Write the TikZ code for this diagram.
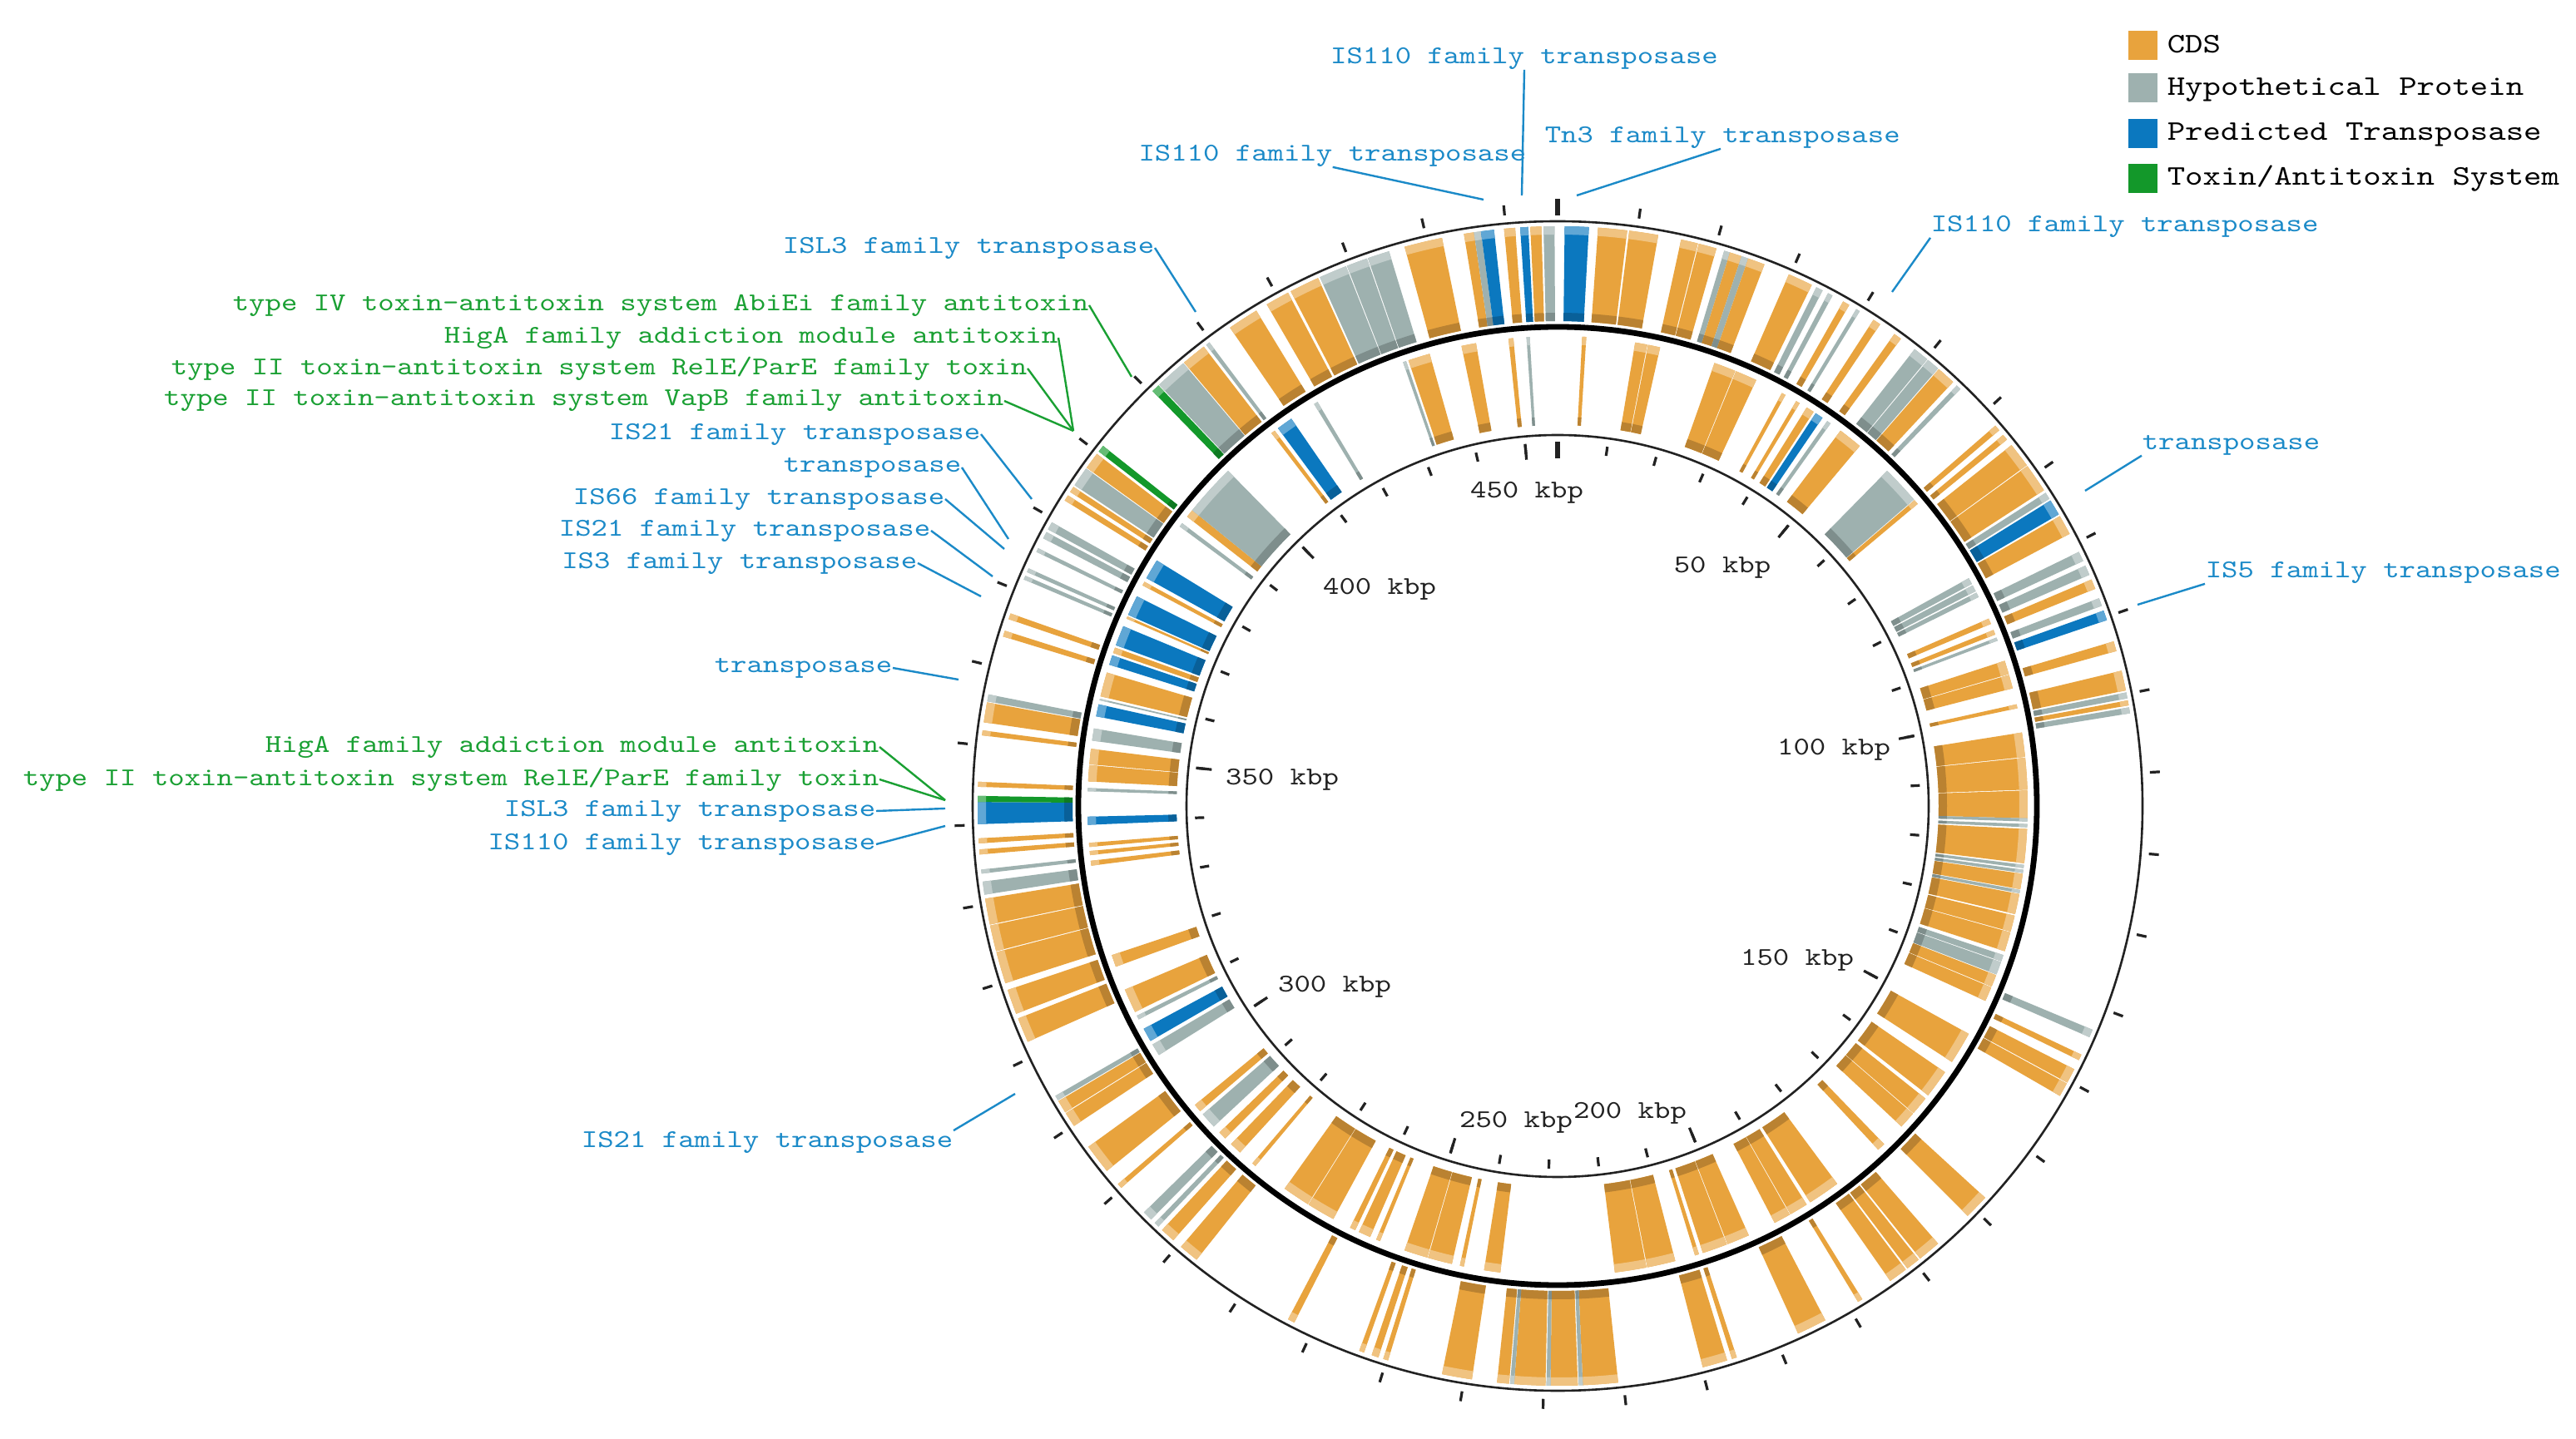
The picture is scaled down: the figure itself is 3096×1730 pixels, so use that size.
\documentclass[tikz,border=0pt]{standalone}
\usepackage{fontspec}
\usetikzlibrary{calc}
\newfontfamily\lblfont[FakeStretch=1.2]{lmmono10-regular.otf}
\definecolor{cds}{HTML}{E8A33D}
\definecolor{hyp}{HTML}{9EB1AF}
\definecolor{tra}{HTML}{0B78BF}
\definecolor{tox}{HTML}{13982A}
\definecolor{lblue}{HTML}{1B8AC8}
\definecolor{lgreen}{HTML}{1AA033}
\definecolor{ink}{HTML}{222222}
\newcommand\sect[5]{\fill[#5] ({90-(#1)}:#4) arc[start angle={90-(#1)}, end angle={90-(#2)}, radius=#4] -- ({90-(#2)}:#3) arc[start angle={90-(#2)}, end angle={90-(#1)}, radius=#3] -- cycle;}
\newcommand\outf[3]{\sect{#1}{#2}{583}{697}{#3}\sect{#1}{#2}{583}{593}{#3!80!black}\sect{#1}{#2}{687}{697}{#3!65!white}}
\newcommand\innf[3]{\sect{#1}{#2}{458}{565}{#3}\sect{#1}{#2}{458}{468}{#3!80!black}\sect{#1}{#2}{555}{565}{#3!65!white}}
\newcommand\lbl{\lblfont\fontsize{7.7}{9}\selectfont}
\newcommand\lgd{\lblfont\fontsize{8.5}{10}\selectfont}
\tikzset{
  bluelab/.style={inner sep=0pt, text=lblue, font=\lbl},
  greenlab/.style={inner sep=0pt, text=lgreen, font=\lbl},
  scalelab/.style={inner sep=0pt, text=ink, font=\lbl},
  bleader/.style={draw=lblue, line width=0.6pt},
  gleader/.style={draw=lgreen, line width=0.6pt},
  sctick/.style={draw=ink, line width=0.8pt},
  swatch/.style={minimum size=8.75pt, inner sep=0pt, draw=none},
  legtext/.style={inner sep=0pt, anchor=west, text=black, font=\lgd}
}
\begin{document}
\begin{tikzpicture}[x=0.25pt,y=0.25pt]
\useasboundingbox (0,0) rectangle (3096,-1730);
\fill[white] (0,0) rectangle (3096,-1730);
\begin{scope}[shift={(1872,-969)}]
% outer ring features
\foreach \a/\b/\c in {-91.8/-89.6/tra,-89.6/-89.0/tox,-88.1/-87.6/cds,-83.0/-82.5/cds,-81.7/-79.7/cds,-79.6/-78.9/hyp,-73.0/-72.4/cds,-71.2/-70.6/cds,-67.0/-66.6/hyp,-66.2/-65.8/hyp,-64.0/-63.6/hyp,-62.5/-61.8/hyp,-61.5/-60.7/hyp,-58.2/-57.6/cds,-57.2/-56.6/cds,-56.4/-54.4/hyp,-54.3/-52.6/cds,-52.3/-51.6/tox,-44.3/-43.5/tox,-43.4/-40.2/hyp,-40.1/-37.6/cds,-37.3/-36.9/hyp,-34.4/-31.3/cds,-30.1/-27.7/cds,-27.4/-24.4/cds,-24.2/-21.4/hyp,-21.3/-19.2/hyp,-19.1/-16.9/hyp,-15.3/-11.5/cds,-9.3/-8.3/cds,-8.3/-7.6/hyp,-7.6/-6.3/tra,-5.3/-4.2/cds,-3.7/-2.9/tra,-2.7/-1.6/cds,-1.4/-0.3/hyp,
0.7/3.1/tra,4.0/6.9/cds,7.1/10.0/cds,12.3/14.0/cds,14.1/15.9/cds,16.7/17.3/hyp,17.3/18.5/cds,18.5/19.2/hyp,19.2/20.9/cds,23.5/26.0/cds,26.5/27.2/hyp,27.8/28.3/hyp,29.5/30.2/cds,31.0/31.4/hyp,33.0/33.8/cds,35.5/36.3/cds,38.0/39.6/hyp,39.7/41.0/hyp,41.1/43.0/cds,43.5/44.0/hyp,49.0/49.6/cds,50.2/50.8/cds,51.5/54.0/cds,54.1/57.0/cds,57.3/58.0/hyp,58.2/59.8/tra,60.0/62.0/cds,64.0/65.0/hyp,65.5/66.5/hyp,67.0/68.0/cds,69.0/69.8/hyp,70.3/71.3/tra,73.5/74.5/cds,76.5/78.5/cds,78.7/79.3/hyp,79.5/80.0/cds,80.2/80.8/hyp,
112.7/113.5/hyp,115.4/116.0/cds,117.0/118.5/cds,118.6/120.0/cds,132.5/135.0/cds,139.0/141.3/cds,141.5/142.9/cds,143.1/145.0/cds,148.3/148.8/cds,152.5/155.5/cds,162.0/162.5/cds,163.0/165.5/cds,174.0/177.5/cds,177.5/177.9/hyp,178.0/180.7/cds,180.7/181.1/hyp,181.2/184.3/cds,184.3/184.7/hyp,184.8/186.0/cds,
-171.5/-168.5/cds,-163.0/-162.5/cds,-162.0/-161.3/cds,-160.5/-160.0/cds,-153.0/-152.3/cds,-141.5/-139.5/cds,-138.5/-137.0/cds,-136.5/-136.0/hyp,-135.5/-134.5/hyp,-131.2/-130.7/cds,-129.0/-126.0/cds,-123.5/-122.0/cds,-121.9/-120.6/cds,-120.5/-120.0/hyp,-114.0/-111.5/cds,-111.0/-108.5/cds,-107.8/-104.6/cds,-104.5/-101.9/cds,-101.8/-99.2/cds,-98.8/-97.5/hyp,-96.7/-96.3/hyp,-94.8/-94.3/cds,-93.7/-93.2/cds}
  {\outf{\a}{\b}{\c}}
% inner ring features
\foreach \a/\b/\c in {-92.3/-91.3/tra,-88.2/-87.8/hyp,-87.0/-85.0/cds,-84.9/-83.0/cds,-82.0/-80.5/hyp,-79.0/-77.5/tra,-77.0/-76.8/hyp,-76.5/-73.5/cds,-72.5/-71.3/tra,-71.0/-70.3/cds,-70.0/-67.5/tra,-66.5/-66.2/cds,-66.0/-63.5/tra,-62.0/-61.5/cds,-61.0/-58.5/tra,-53.5/-53.0/hyp,-52.0/-51.0/cds,-51.0/-44.5/hyp,-37.5/-37.0/cds,-36.5/-34.5/tra,-31.2/-30.7/hyp,-19.2/-18.8/hyp,-18.5/-15.8/cds,-11.8/-10.0/cds,-6.0/-5.4/cds,-3.8/-3.4/hyp,
3.0/3.5/cds,9.5/11.0/cds,11.1/12.6/cds,19.5/22.2/cds,22.3/25.0/cds,28.5/29.0/cds,30.5/31.0/cds,32.0/33.0/cds,33.3/34.3/tra,35.0/35.5/hyp,37.0/40.0/cds,44.5/49.3/hyp,49.4/50.0/cds,61.0/61.8/hyp,62.0/62.8/hyp,63.0/63.6/hyp,66.5/67.2/cds,68.0/68.6/cds,69.0/69.4/hyp,72.0/73.7/cds,73.8/75.5/cds,77.5/78.0/cds,81.0/84.0/cds,84.1/88.0/cds,88.1/91.5/cds,91.5/91.9/hyp,92.2/92.6/hyp,92.8/97.0/cds,97.2/97.6/hyp,97.8/98.2/hyp,98.3/100.2/cds,100.3/100.7/hyp,100.8/103.3/cds,
103.5/105.5/cds,105.6/108.0/cds,108.5/109.3/hyp,109.4/111.0/hyp,111.1/112.6/cds,112.7/114.5/cds,119.0/123.0/cds,124.5/128.0/cds,128.5/130.8/cds,130.9/133.0/cds,136.0/137.0/cds,143.5/147.5/cds,148.0/150.3/cds,150.4/152.5/cds,156.0/158.8/cds,158.9/162.0/cds,162.5/163.0/cds,165.5/169.0/cds,169.1/173.0/cds,
-173.0/-171.0/cds,-168.5/-168.0/cds,-167.0/-164.0/cds,-163.9/-161.0/cds,-157.8/-157.3/cds,-156.5/-155.0/cds,-154.5/-153.8/cds,-151.5/-148.0/cds,-147.9/-144.5/cds,-140.0/-139.5/cds,-137.5/-136.0/cds,-135.0/-134.0/cds,-133.0/-131.0/hyp,-130.5/-129.5/cds,-122.0/-120.5/hyp,-120.0/-118.3/tra,-117.0/-116.5/hyp,-116.0/-113.0/cds,-110.0/-108.5/cds,-97.3/-96.7/cds,-96.0/-95.5/cds,-95.0/-94.5/cds}
  {\innf{\a}{\b}{\c}}
% circles
\draw[ink, line width=0.65pt] (0,0) circle[radius=703];
\draw[black, line width=1.7pt] (0,0) circle[radius=576];
\draw[ink, line width=0.65pt] (0,0) circle[radius=446];
% ticks
\foreach \k in {1,...,45} {
  \draw[sctick] ({90-\k*7.8861}:425) -- ({90-\k*7.8861}:436);
  \draw[sctick] ({90-\k*7.8861}:713) -- ({90-\k*7.8861}:725);
}
\foreach \k in {5,10,...,45} {
  \draw[sctick] ({90-\k*7.8861}:418) -- ({90-\k*7.8861}:437);
}
\draw[sctick, line width=1.4pt] (90:418) -- (90:438);
\draw[sctick, line width=1.4pt] (90:710) -- (90:730);
\end{scope}
% scale labels
\node[scalelab] (s450) at (1835,-592) {450 kbp};
\node[scalelab] (s50) at (2070,-682) {50 kbp};
\node[scalelab] (s100) at (2204,-901) {100 kbp};
\node[scalelab] (s150) at (2160,-1154) {150 kbp};
\node[scalelab] (s200) at (1959,-1338) {200 kbp};
\node[scalelab] (s250) at (1822,-1349) {250 kbp};
\node[scalelab] (s300) at (1604,-1186) {300 kbp};
\node[scalelab] (s350) at (1541,-937) {350 kbp};
\node[scalelab] (s400) at (1658,-708) {400 kbp};
% leader end points
\coordinate (e1) at (1829,-235);
\coordinate (e2) at (1783,-240);
\coordinate (e3) at (1895,-235);
\coordinate (e4) at (2274,-351);
\coordinate (e5) at (2506,-590);
\coordinate (e6) at (2569,-727);
\coordinate (e7) at (1437,-375);
\coordinate (e8) at (1360,-453);
\coordinate (e9) at (1290,-518);
\coordinate (e12) at (1240,-600);
\coordinate (e13) at (1212,-648);
\coordinate (e14) at (1207,-660);
\coordinate (e15) at (1193,-693);
\coordinate (e16) at (1179,-717);
\coordinate (e17) at (1152,-817);
\coordinate (e18) at (1136,-962);
\coordinate (e20) at (1136,-972);
\coordinate (e21) at (1136,-993);
\coordinate (e22) at (1220,-1315);
% top / right labels
\node[bluelab] (l1) at (1832,-70) {IS110 family transposase};
\node[bluelab, anchor=east] (l2) at (1835,-187) {IS110 family transposase};
\node[bluelab, anchor=west] (l3) at (1856,-165) {Tn3 family transposase};
\node[bluelab, anchor=west] (l4) at (2320,-272) {IS110 family transposase};
\node[bluelab, anchor=west] (l5) at (2574,-535) {transposase};
\node[bluelab, anchor=west] (l6) at (2650,-688) {IS5 family transposase};
\draw[bleader] (l1.south) -- (e1);
\draw[bleader] ($(l2.south west)+(234,0)$) -- (e2);
\draw[bleader] ($(l3.south west)+(212,0)$) -- (e3);
\draw[bleader] (l4.south west) -- (e4);
\draw[bleader] (l5.south west) -- (e5);
\draw[bleader] (l6.south west) -- (e6);
% left labels
\node[bluelab, anchor=east] (l7) at (1388,-298) {ISL3 family transposase};
\node[greenlab, anchor=east] (l8) at (1309,-367) {type IV toxin-antitoxin system AbiEi family antitoxin};
\node[greenlab, anchor=east] (l9) at (1272,-406) {HigA family addiction module antitoxin};
\node[greenlab, anchor=east] (l10) at (1235,-443) {type II toxin-antitoxin system RelE/ParE family toxin};
\node[greenlab, anchor=east] (l11) at (1207,-482) {type II toxin-antitoxin system VapB family antitoxin};
\node[bluelab, anchor=east] (l12) at (1179,-522) {IS21 family transposase};
\node[bluelab, anchor=east] (l13) at (1156,-562) {transposase};
\node[bluelab, anchor=east] (l14) at (1136,-600) {IS66 family transposase};
\node[bluelab, anchor=east] (l15) at (1119,-638) {IS21 family transposase};
\node[bluelab, anchor=east] (l16) at (1103,-677) {IS3 family transposase};
\node[bluelab, anchor=east] (l17) at (1073,-803) {transposase};
\node[greenlab, anchor=east] (l18) at (1057,-898) {HigA family addiction module antitoxin};
\node[greenlab, anchor=east] (l19) at (1057,-937) {type II toxin-antitoxin system RelE/ParE family toxin};
\node[bluelab, anchor=east] (l20) at (1053,-975) {ISL3 family transposase};
\node[bluelab, anchor=east] (l21) at (1053,-1015) {IS110 family transposase};
\node[bluelab, anchor=east] (l22) at (1146,-1373) {IS21 family transposase};
\draw[bleader] (l7.east) -- (e7);
\draw[gleader] (l8.east) -- (e8);
\draw[gleader] (l9.east) -- (e9);
\draw[gleader] (l10.east) -- (e9);
\draw[gleader] (l11.east) -- (e9);
\draw[bleader] (l12.east) -- (e12);
\draw[bleader] (l13.east) -- (e13);
\draw[bleader] (l14.east) -- (e14);
\draw[bleader] (l15.east) -- (e15);
\draw[bleader] (l16.east) -- (e16);
\draw[bleader] (l17.east) -- (e17);
\draw[gleader] (l18.east) -- (e18);
\draw[gleader] (l19.east) -- (e18);
\draw[bleader] (l20.east) -- (e20);
\draw[bleader] (l21.east) -- (e21);
\draw[bleader] (l22.north east) -- (e22);
% legend
\node[swatch, fill=cds] (k1) at (2575.5,-54.5) {};
\node[swatch, fill=hyp] (k2) at (2575.5,-105.5) {};
\node[swatch, fill=tra] (k3) at (2575.5,-160.5) {};
\node[swatch, fill=tox] (k4) at (2575.5,-214.5) {};
\node[legtext] (t1) at (2604,-53) {CDS};
\node[legtext] (t2) at (2604,-108) {Hypothetical Protein};
\node[legtext] (t3) at (2604,-162) {Predicted Transposase};
\node[legtext] (t4) at (2604,-215) {Toxin/Antitoxin System};
\end{tikzpicture}
\end{document}
